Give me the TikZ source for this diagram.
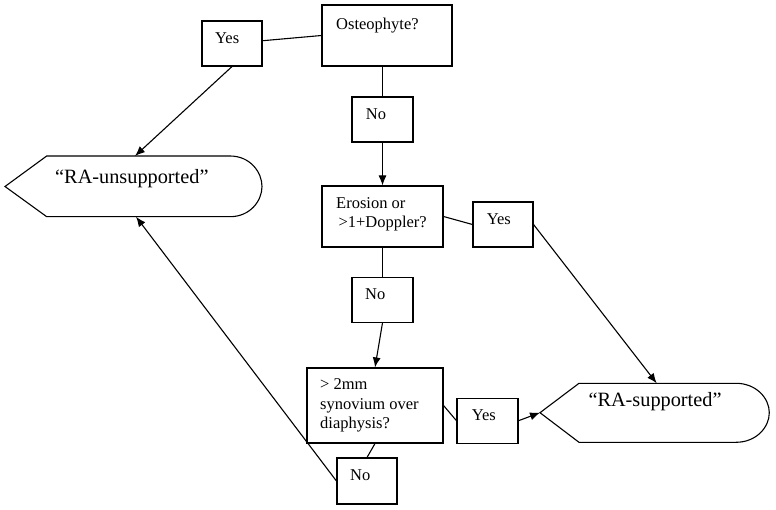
\documentclass[tikz,border=0pt]{standalone}
\usepackage{fontspec}
\setmainfont{Liberation Serif}
\usetikzlibrary{arrows.meta,calc}
\begin{document}
\begin{tikzpicture}[x=1pt,y=-1pt,
  box/.style={draw,line width=1.1pt,inner sep=0pt},
  txt/.style={anchor=base west,inner sep=0pt,font=\fontsize{16.5}{19.5}\selectfont},
  bigtxt/.style={anchor=base west,inner sep=0pt,font=\fontsize{20.3}{24}\selectfont},
  conn/.style={line width=1.1pt},
  arr/.style={line width=1.1pt,-{Latex[length=10pt,width=8pt]}}]
\useasboundingbox (0,0) rectangle (776,510);
% boxes
\node[box,minimum width=130pt,minimum height=61pt] (oste) at (387,35.5) {};
\node[box,minimum width=60pt,minimum height=45pt] (yes1) at (232,43.5) {};
\node[box,minimum width=61pt,minimum height=45pt] (no1) at (382.5,119.5) {};
\node[box,minimum width=121pt,minimum height=61pt] (eros) at (382.5,216.5) {};
\node[box,minimum width=60pt,minimum height=45pt] (yes2) at (503,224.5) {};
\node[box,minimum width=61pt,minimum height=45pt] (no2) at (382.5,299.8) {};
\node[box,minimum width=136pt,minimum height=75pt] (gt2) at (375,405.5) {};
\node[box,minimum width=61pt,minimum height=45pt] (yes3) at (487.5,420.7) {};
\node[box,minimum width=60pt,minimum height=46pt] (no3) at (367,481) {};
% terminal shapes
\draw[line width=1.1pt] (5,186.5) -- (46.7,156) -- (230,156)
  .. controls (250,156) and (262,172) .. (262,186.5)
  .. controls (262,201) and (250,216.7) .. (230,216.7) -- (46.7,216.7) -- cycle;
\coordinate (rautop) at (135,156);
\coordinate (raubot) at (136,216.7);
\draw[line width=1.1pt] (540,412.7) -- (579,383.3) -- (736,383.3)
  .. controls (756,383.3) and (769.3,398) .. (769.3,412.7)
  .. controls (769.3,427.5) and (756,442.3) .. (736,442.3) -- (579,442.3) -- cycle;
\coordinate (rastop) at (656.7,383.3);
\coordinate (rasleft) at (540,412.7);
% texts
\node[txt] (toste) at (336,29.5) {Osteophyte?};
\node[txt] (tyes1) at (215,43.3) {Yes};
\node[txt] (tno1) at (365.7,120) {No};
\node[txt] (teros1) at (336,209) {Erosion or};
\node[txt] (teros2) at (338.3,227.7) {>1+Doppler?};
\node[txt] (tyes2) at (486.7,224.3) {Yes};
\node[txt] (tno2) at (365,299.3) {No};
\node[txt] (tgt1) at (320,389.3) {> 2mm};
\node[txt] (tgt2) at (320,409.3) {synovium over};
\node[txt] (tgt3) at (320,428.8) {diaphysis?};
\node[txt] (tyes3) at (471.7,420.7) {Yes};
\node[txt] (tno3) at (350,480.7) {No};
\node[bigtxt] (trau) at (55,183.3) {“RA-unsupported”};
\node[bigtxt] (tras) at (588.3,406.7) {“RA-supported”};
% connectors
\draw[conn] ($(yes1.north east)!0.44!(yes1.south east)$) -- (oste.west);
\draw[conn] (no1.north) -- (no1.north |- oste.south);
\draw[arr] (no1.south) -- (eros.north);
\draw[arr] (yes1.south) -- (rautop);
\draw[conn] (eros.east) -- (yes2.west);
\draw[conn] (no2.north) -- (no2.north |- eros.south);
\draw[arr] (no2.south) -- (gt2.north);
\draw[arr] (yes2.east) -- (rastop);
\draw[conn] (gt2.east) -- (yes3.west);
\draw[arr] (yes3.east) -- (rasleft);
\draw[conn] (gt2.south) -- (no3.north);
\draw[arr] (no3.west) -- (raubot);
\end{tikzpicture}
\end{document}
